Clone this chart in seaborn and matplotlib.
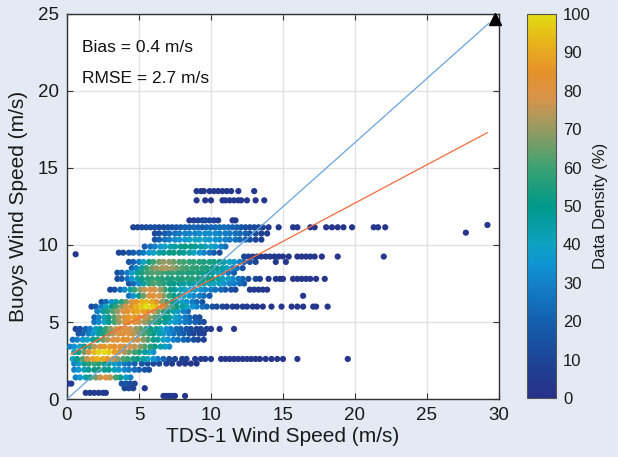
import numpy as np
import pandas as pd
import matplotlib
matplotlib.use("Agg")
import matplotlib.pyplot as plt
from matplotlib.colors import LinearSegmentedColormap, Normalize
from matplotlib.cm import ScalarMappable
import seaborn as sns

# ---------------- data ----------------
buoy_levels = [13.5, 12.9, 11.6, 11.15, 10.75, 10.35, 9.9, 9.5, 9.25, 8.9, 8.5, 8.2,
               7.8, 7.5, 7.1, 6.7, 6.3, 6.0, 5.7, 5.3, 5.0, 4.55, 4.25, 3.85, 3.4,
               3.05, 2.6, 2.3, 1.9, 1.4, 1.0, 0.7, 0.4, 0.2]

tds_rows = [
    [9.0, 9.3, 9.5, 9.9, 10.2, 10.5, 10.8, 11.1, 11.4, 11.9, 13.0],
    [9.0, 9.6, 10.0, 10.8, 11.0, 11.3, 11.6, 11.9, 12.1, 12.5, 13.1, 13.7],
    [8.5, 8.8, 9.1, 9.4, 9.6, 9.9, 10.2, 10.5, 11.5, 11.7],
    [4.6, 4.9, 5.2, 5.5, 5.8, 6.1, 6.4, 6.7, 7.0, 7.3, 7.6, 7.9, 8.2, 8.5, 8.8, 9.1,
     9.4, 9.7, 10.0, 10.3, 10.6, 10.9, 11.2, 11.5, 11.8, 12.1, 12.4, 12.7, 13.0, 13.3,
     13.6, 14.0, 14.7, 15.7, 16.0, 16.9, 17.2, 18.0, 18.4, 18.8, 19.2, 19.8, 21.3, 21.6, 22.1],
    [6.1, 6.4, 6.8, 7.1, 7.5, 7.8, 8.2, 8.5, 8.9, 9.2, 9.6, 9.9, 10.3, 10.6, 11.0, 11.3,
     11.7, 12.0, 12.4, 12.7, 13.1, 13.5, 13.9],
    [6.1, 6.4, 6.8, 7.1, 7.5, 7.8, 8.2, 8.5, 8.9, 9.2, 9.6, 9.9, 10.3, 10.6, 11.0, 11.3,
     11.7, 12.0, 12.4, 12.7, 13.1, 13.5],
    [5.4, 5.8, 6.1, 6.5, 6.8, 7.2, 7.5, 7.9, 8.2, 8.6, 8.9, 9.3, 9.6, 10.0, 10.3, 10.7, 11.0],
    [3.6, 3.9, 4.3, 4.6, 5.0, 5.3, 5.7, 6.0, 6.4, 6.7, 7.1, 7.4, 7.8, 8.1, 8.5, 8.8,
     9.2, 9.5, 9.9, 10.2, 10.6],
    [12.3, 12.6, 12.9, 13.2, 13.5, 13.8, 14.1, 14.4, 14.7, 15.0, 15.4, 16.0, 16.3, 16.6,
     16.9, 17.2, 17.7, 18.8, 22.0],
    [4.3, 4.6, 5.0, 5.3, 5.7, 6.0, 6.4, 6.7, 7.1, 7.4, 7.8, 8.1, 8.5, 8.8, 9.2, 9.5,
     9.9, 10.2, 10.6, 10.9, 11.3, 11.6, 12.0, 12.3, 12.7, 13.1, 14.5, 15.2],
    [4.5, 4.8, 5.2, 5.5, 5.9, 6.2, 6.6, 6.9, 7.3, 7.6, 8.0, 8.3, 8.7, 9.0, 9.4, 9.7,
     10.1, 10.4, 10.8, 11.1, 11.5, 11.8, 12.2],
    [3.5, 3.8, 4.2, 4.5, 4.9, 5.2, 5.6, 5.9, 6.3, 6.6, 7.0, 7.3, 7.7, 8.0, 8.4, 8.7,
     9.1, 9.4, 9.8, 10.1, 10.5, 10.8, 11.2, 11.6],
    [3.5, 3.8, 4.2, 4.5, 4.9, 5.2, 5.6, 5.9, 6.3, 6.6, 7.0, 7.3, 7.7, 8.0, 8.4, 8.7,
     9.1, 9.4, 9.8, 10.1, 10.5, 10.8, 11.2, 11.5, 11.9, 12.2, 12.6, 13.1, 13.4,
     14.0, 14.5, 14.8, 15.0, 15.7, 16.0, 16.3, 16.6, 16.9, 17.3, 17.9],
    [4.3, 4.6, 5.0, 5.3, 5.7, 6.0, 6.4, 6.7, 7.1, 7.4, 7.8, 8.1, 8.5, 8.8, 9.2, 9.5,
     9.9, 10.2, 10.6, 10.9, 11.3, 11.6, 12.0, 12.3],
    [3.0, 3.3, 3.7, 4.0, 4.4, 4.7, 5.1, 5.4, 5.8, 6.1, 6.5, 6.8, 7.2, 7.5, 7.9, 8.2,
     8.6, 8.9, 9.3, 9.6, 10.0, 10.3, 10.7, 11.0, 11.4, 11.7, 12.7, 13.0, 13.3, 13.6, 13.9],
    [4.3, 4.6, 5.0, 5.3, 5.7, 6.0, 6.4, 6.7, 7.1, 7.4, 7.8, 8.1, 8.5, 8.8, 9.2, 9.5, 9.9, 16.4],
    [2.4, 2.7, 3.1, 3.4, 3.8, 4.1, 4.5, 4.8, 5.2, 5.5, 5.9, 6.2, 6.6, 6.9, 7.3, 7.6,
     8.0, 8.3, 8.7, 9.0, 9.4],
    [1.7, 2.0, 2.4, 2.7, 3.1, 3.4, 3.8, 4.1, 4.5, 4.8, 5.2, 5.5, 5.9, 6.2, 6.6, 6.9,
     7.3, 7.6, 8.0, 8.3, 8.7, 9.0, 9.4, 9.7, 10.1, 10.4, 10.8, 11.1, 11.5, 11.8, 12.2,
     12.5, 12.9, 13.2, 13.6, 14.2, 14.9, 15.6, 16.0, 16.4, 17.1, 17.3, 18.1],
    [2.1, 2.5, 2.8, 3.2, 3.5, 3.9, 4.2, 4.6, 4.9, 5.3, 5.6, 6.0, 6.3, 6.7, 7.0, 7.4, 7.7, 8.1, 8.4],
    [1.9, 2.2, 2.6, 2.9, 3.3, 3.6, 4.0, 4.3, 4.7, 5.0, 5.4, 5.7, 6.1, 6.4, 6.8, 7.1,
     7.5, 7.8, 8.2, 8.5, 8.9, 9.2],
    [1.9, 2.2, 2.6, 2.9, 3.3, 3.6, 4.0, 4.3, 4.7, 5.0, 5.4, 5.7, 6.1, 6.4, 6.8, 7.1,
     7.5, 7.8, 8.2, 8.5, 8.9, 9.2, 9.5],
    [0.6, 0.9, 1.3, 1.6, 2.0, 2.3, 2.7, 3.0, 3.4, 3.7, 4.1, 4.4, 4.8, 5.1, 5.5, 5.8,
     6.2, 6.5, 6.9, 7.2, 7.6, 7.9, 8.3, 8.6, 9.0, 9.3, 9.7, 10.0, 10.6, 11.6],
    [0.8, 1.1, 1.5, 1.8, 2.2, 2.5, 2.9, 3.2, 3.6, 3.9, 4.3, 4.6, 5.0, 5.3, 5.7, 6.0,
     6.4, 6.7, 7.1, 7.4, 7.8, 8.1, 8.5, 8.8, 9.2, 9.5],
    [0.4, 0.7, 1.1, 1.4, 1.8, 2.1, 2.5, 2.8, 3.2, 3.5, 3.9, 4.2, 4.6, 4.9, 5.3, 5.6,
     6.0, 6.3, 6.7, 7.0, 7.4, 7.7, 8.1, 8.4, 8.8, 9.1, 9.5],
    [0.2, 0.5, 0.9, 1.2, 1.6, 1.9, 2.3, 2.6, 3.0, 3.3, 3.7, 4.0, 4.4, 4.7, 5.1, 5.4,
     5.8, 6.1, 6.5, 6.8, 7.1],
    [0.5, 0.8, 1.2, 1.5, 1.9, 2.2, 2.6, 2.9, 3.3, 3.6, 4.0, 4.3, 4.7, 5.0, 5.4, 5.7, 6.0],
    [0.4, 0.7, 1.1, 1.4, 1.8, 2.1, 2.5, 2.8, 3.2, 3.5, 3.9, 4.2, 4.6, 4.9, 5.3, 5.6,
     6.0, 6.3, 6.7, 7.1, 7.5, 8.0, 8.3, 8.9, 9.3, 9.6, 10.0, 10.7, 11.0, 11.3, 11.6,
     11.9, 12.2, 12.5, 12.8, 13.1, 13.4, 13.8, 14.2, 14.6, 15.0, 16.0, 19.5],
    [0.5, 0.8, 1.2, 1.5, 1.9, 2.2, 2.6, 2.9, 3.3, 3.6, 4.0, 4.3, 4.7, 5.2, 5.6, 6.0,
     6.4, 6.9, 7.3, 7.8, 8.2, 8.6, 9.0],
    [0.5, 0.8, 1.2, 1.5, 1.9, 2.2, 2.6, 2.9, 3.3, 3.6, 4.0, 4.3, 4.7, 5.0, 5.4, 5.7],
    [0.6, 0.9, 1.3, 1.6, 2.0, 2.3, 2.7, 3.0, 3.4, 3.7, 4.1, 4.4],
    [0.1, 0.3, 3.8, 4.1, 4.4, 4.7],
    [4.0, 4.3, 4.6, 5.4],
    [1.3, 1.6, 1.9, 2.2, 2.5, 2.7],
    [6.7, 6.9, 7.1, 7.3, 7.5, 8.2],
]

density_rows = [
    [4, 4, 4, 4, 4, 4, 4, 4, 4, 3, 3],
    [3, 3, 3, 4, 4, 4, 4, 4, 4, 3, 3, 3],
    [5, 6, 8, 10, 12, 10, 8, 6, 4, 4],
    [8, 10, 12, 12, 14, 14, 12, 12, 14, 15, 16, 18, 20, 20, 22, 20, 18, 20, 22, 22,
     24, 24, 22, 20, 18, 16, 14, 12, 12, 10, 8, 6, 4, 3, 3, 3, 3, 3, 3, 3, 3, 3, 3, 3, 3],
    [10, 14, 18, 22, 25, 28, 30, 30, 30, 32, 33, 33, 32, 30, 28, 28, 25, 22, 20, 16, 12, 8, 5],
    [15, 20, 25, 28, 32, 34, 36, 38, 40, 40, 38, 36, 35, 33, 30, 28, 25, 22, 18, 14, 10, 6],
    [20, 25, 30, 35, 40, 42, 45, 48, 50, 50, 48, 45, 42, 40, 35, 30, 25],
    [10, 12, 15, 18, 22, 28, 35, 40, 45, 48, 50, 52, 50, 48, 45, 40, 35, 30, 25, 18, 12],
    [10, 8, 8, 6, 6, 5, 5, 4, 4, 4, 3, 3, 3, 3, 3, 3, 3, 3, 3],
    [15, 20, 28, 40, 52, 60, 66, 70, 68, 65, 62, 60, 58, 58, 56, 55, 55, 52, 50, 45,
     40, 35, 30, 22, 15, 10, 4, 3],
    [20, 30, 45, 58, 65, 70, 72, 72, 70, 66, 62, 60, 58, 58, 56, 54, 52, 50, 45, 40, 32, 25, 15],
    [15, 20, 28, 38, 48, 55, 60, 62, 62, 60, 58, 58, 56, 56, 55, 55, 54, 52, 50, 46, 40, 34, 26, 18],
    [12, 18, 25, 35, 45, 52, 56, 58, 58, 56, 55, 55, 55, 56, 56, 56, 55, 54, 52, 50,
     46, 42, 38, 32, 26, 20, 14, 10, 8, 4, 4, 3, 3, 3, 3, 3, 3, 3, 3, 3],
    [15, 22, 32, 45, 58, 62, 60, 56, 52, 50, 48, 46, 46, 45, 45, 44, 42, 40, 38, 34, 30, 28, 24, 18],
    [10, 15, 22, 32, 45, 58, 68, 75, 80, 78, 70, 60, 52, 46, 42, 40, 38, 36, 34, 30,
     28, 25, 22, 18, 14, 10, 5, 4, 4, 3, 3],
    [25, 35, 50, 65, 80, 82, 78, 68, 58, 50, 44, 40, 36, 32, 28, 24, 18, 3],
    [15, 22, 35, 45, 55, 65, 78, 86, 92, 94, 90, 82, 70, 60, 52, 46, 40, 34, 28, 22, 16],
    [12, 18, 28, 40, 50, 58, 68, 78, 85, 92, 96, 100, 98, 92, 82, 70, 60, 52, 45, 40,
     35, 30, 25, 20, 15, 12, 10, 8, 7, 6, 5, 5, 4, 4, 3, 3, 3, 3, 3, 3, 3, 3, 3],
    [30, 45, 55, 62, 70, 78, 84, 88, 90, 88, 84, 76, 66, 58, 50, 44, 38, 30, 22],
    [20, 30, 42, 52, 62, 72, 82, 86, 86, 82, 76, 70, 64, 58, 52, 46, 40, 34, 28, 22, 16, 12],
    [25, 32, 40, 50, 60, 70, 80, 84, 82, 76, 70, 64, 58, 52, 46, 40, 36, 32, 28, 24, 20, 16, 12],
    [10, 14, 20, 28, 38, 48, 58, 68, 76, 80, 80, 76, 70, 64, 58, 52, 46, 40, 34, 28,
     24, 20, 16, 12, 10, 8, 6, 5, 4, 3],
    [15, 20, 28, 36, 46, 56, 66, 74, 80, 82, 80, 74, 68, 62, 56, 50, 44, 38, 32, 26, 22, 18, 14, 10, 8, 6],
    [25, 30, 35, 40, 48, 56, 64, 72, 78, 82, 84, 84, 82, 76, 68, 60, 52, 46, 40, 34,
     30, 26, 22, 18, 14, 10, 8],
    [30, 34, 40, 50, 62, 74, 82, 86, 86, 84, 82, 80, 78, 74, 68, 62, 56, 50, 44, 38, 32],
    [40, 52, 66, 80, 92, 98, 100, 96, 88, 80, 72, 66, 60, 54, 46, 40, 34],
    [40, 50, 62, 76, 88, 92, 90, 84, 76, 68, 62, 58, 54, 50, 46, 40, 34, 28, 22,
     12, 10, 8, 8, 6, 6, 5, 5, 4, 4, 4, 4, 4, 4, 4, 4, 3, 3, 3, 3, 3, 3, 3, 3],
    [30, 38, 48, 56, 58, 56, 50, 44, 38, 32, 28, 24, 20, 16, 14, 12, 10, 8, 6, 5, 4, 4, 3],
    [30, 36, 42, 48, 52, 54, 52, 48, 42, 36, 32, 28, 24, 20, 16, 12],
    [30, 36, 44, 54, 66, 76, 80, 74, 60, 48, 38, 30],
    [5, 5, 15, 15, 12, 10],
    [10, 10, 8, 4],
    [5, 5, 5, 5, 5, 4],
    [4, 4, 4, 4, 4, 3],
]

outlier_tds = [0.6, 27.7, 29.2]
outlier_buoy = [9.4, 10.8, 11.3]
outlier_density = [3, 3, 3]

ref_line_x = [0.0, 29.3]
ref_line_y = [0.0, 24.4]
fit_line_x = [0.25, 29.2]
fit_line_y = [2.9, 17.3]
end_marker_x = [29.75]
end_marker_y = [24.65]

x_ticks = [0, 5, 10, 15, 20, 25, 30]
y_ticks = [0, 5, 10, 15, 20, 25]
cbar_ticks = [0, 10, 20, 30, 40, 50, 60, 70, 80, 90, 100]
stats_text = ["Bias = 0.4 m/s", "RMSE = 2.7 m/s"]

# ---------------- build table ----------------
rows = []
for lvl, xs, ds in zip(buoy_levels, tds_rows, density_rows):
    for xv, dv in zip(xs, ds):
        rows.append((xv, lvl, dv))
for xv, yv, dv in zip(outlier_tds, outlier_buoy, outlier_density):
    rows.append((xv, yv, dv))
df = pd.DataFrame(rows, columns=["tds", "buoy", "density"]).sort_values("density")

# ---------------- style ----------------
sns.set_theme(style="white")
plt.rcParams["font.family"] = ["Liberation Sans", "DejaVu Sans"]
bg = "#e4eaf4"

cmap = LinearSegmentedColormap.from_list("dens", [
    (0.00, "#283088"), (0.10, "#1c4596"), (0.20, "#1560b0"), (0.30, "#1282c8"),
    (0.35, "#0f95d2"), (0.40, "#0fa2c2"), (0.50, "#00998a"), (0.60, "#3ca272"),
    (0.70, "#969a62"), (0.78, "#d8944c"), (0.85, "#e4922a"), (0.92, "#e8b01c"),
    (1.00, "#e2dc12")])
norm = Normalize(0, 100)

fig = plt.figure(figsize=(6.18, 4.57), dpi=100, facecolor=bg)
ax = fig.add_axes([0.1084, 0.1269, 0.699, 0.8425])
ax.set_facecolor("white")

sns.scatterplot(data=df, x="tds", y="buoy", hue="density", palette=cmap,
                hue_norm=norm, legend=False, s=20, linewidth=0, ax=ax, zorder=3)

ax.plot(ref_line_x, ref_line_y, color="#6aa4dc", lw=0.9, zorder=4)
ax.plot(fit_line_x, fit_line_y, color="#f26b3a", lw=0.9, zorder=4)
ax.plot(end_marker_x, end_marker_y, marker="^", color="black", ms=8,
        clip_on=False, zorder=6, linestyle="none")

ax.set_xlim(0, 30)
ax.set_ylim(0, 25)
ax.set_xticks(x_ticks)
ax.set_yticks(y_ticks)
ax.grid(True, color="#e2e2e2", lw=1.0, zorder=0)
ax.set_axisbelow(True)
for sp in ax.spines.values():
    sp.set_color("#333333")
    sp.set_linewidth(1.0)
ax.tick_params(direction="in", length=4, width=0.8, colors="#333333",
               labelsize=13.5, labelcolor="#1a1a1a", top=True, right=True,
               bottom=True, left=True, pad=6)
ax.set_xlabel("TDS-1 Wind Speed (m/s)", fontsize=15, color="#1a1a1a", labelpad=2)
ax.set_ylabel("Buoys Wind Speed (m/s)", fontsize=15, color="#1a1a1a", labelpad=7)

ax.text(1.05, 22.5, stats_text[0], fontsize=12.5, color="#111111", va="baseline", zorder=7)
ax.text(1.05, 20.55, stats_text[1], fontsize=12.5, color="#111111", va="baseline", zorder=7)

cax = fig.add_axes([0.8528, 0.1291, 0.0469, 0.8403])
sm = ScalarMappable(norm=norm, cmap=cmap)
cb = fig.colorbar(sm, cax=cax, ticks=cbar_ticks)
cb.outline.set_edgecolor("#555555")
cb.outline.set_linewidth(0.8)
cax.tick_params(direction="in", length=4, width=0.8, colors="#333333",
                labelsize=12, labelcolor="#1a1a1a", pad=5)
cb.set_label("Data Density (%)", fontsize=12, color="#1a1a1a", labelpad=2)

fig.savefig("out.png", dpi=100, facecolor=bg)
